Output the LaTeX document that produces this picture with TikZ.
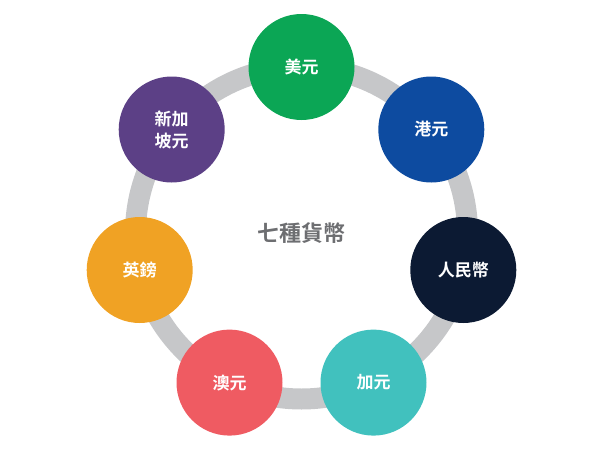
\documentclass[tikz,border=0pt]{standalone}
\usepackage{fontspec}
\newfontfamily\cjk{Noto Sans CJK TC Bold}
\definecolor{ring}{HTML}{C6C7C9}
\definecolor{cgreen}{HTML}{0BA655}
\definecolor{cblue}{HTML}{0D4BA0}
\definecolor{cnavy}{HTML}{0C1A33}
\definecolor{cteal}{HTML}{41C1BE}
\definecolor{cred}{HTML}{EF5B62}
\definecolor{corange}{HTML}{F0A224}
\definecolor{cpurple}{HTML}{5C4086}
\definecolor{ctext}{HTML}{6D6E71}
\tikzset{cur/.style={circle,minimum size=106pt,inner sep=0pt,text=white,font=\cjk\fontsize{17pt}{22pt}\selectfont,align=center}}
\begin{document}
\begin{tikzpicture}[x=1pt,y=-1pt]
\useasboundingbox (0,0) rectangle (600,466);
\coordinate (c) at (301.5,233);
\draw[ring,line width=21pt] (c) circle (166);
\node[font=\cjk\fontsize{22pt}{26pt}\selectfont,text=ctext] (t) at (c) {七種貨幣};
\node[cur,fill=cgreen] (a) at (301.5,67) {美元};
\node[cur,fill=cblue] (b) at (431.3,129.5) {港元};
\node[cur,fill=cnavy] (d) at (463.3,270) {人民幣};
\node[cur,fill=cteal] (e) at (373.5,382.6) {加元};
\node[cur,fill=cred] (f) at (229.5,382.6) {澳元};
\node[cur,fill=corange] (g) at (139.7,270) {英鎊};
\node[cur,fill=cpurple] (h) at (171.7,129.5) {新加\\坡元};
\end{tikzpicture}
\end{document}
